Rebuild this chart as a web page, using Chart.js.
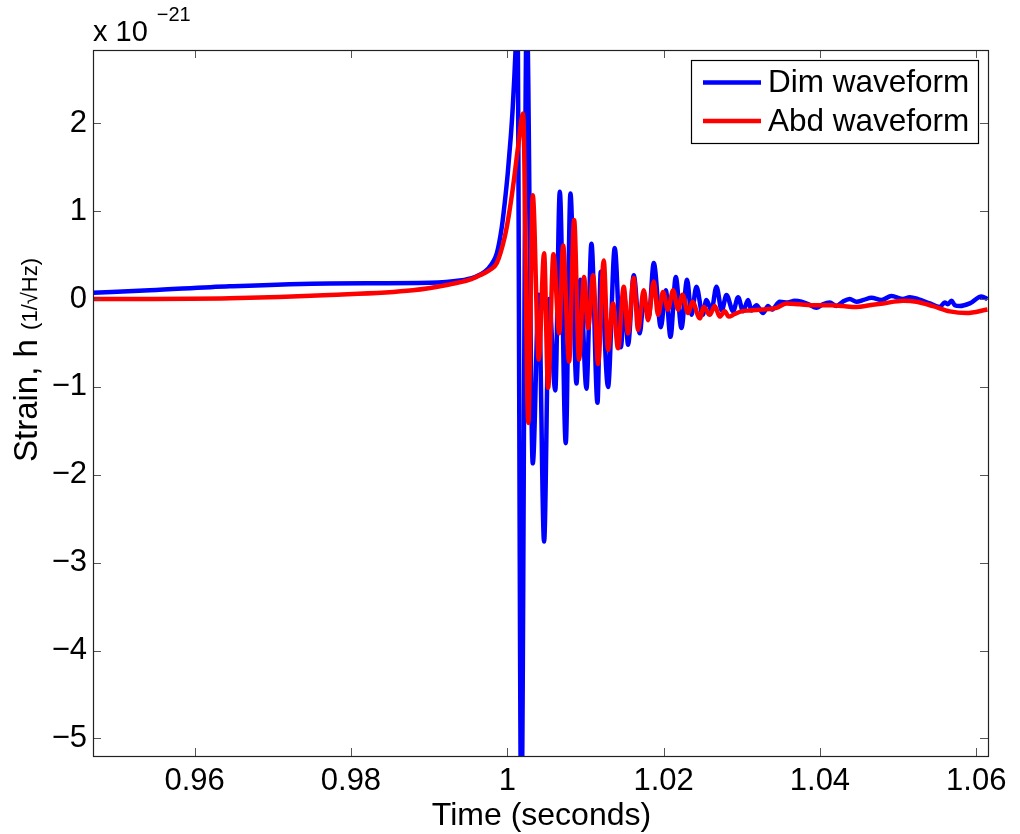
<!DOCTYPE html>
<html><head><meta charset="utf-8">
<script src="https://cdn.jsdelivr.net/npm/chart.js@4.4.0/dist/chart.umd.min.js"></script>
<style>html,body{margin:0;padding:0;background:#fff}canvas{display:block}</style>
</head><body>
<canvas id="c" width="1020" height="834"></canvas>
<script>
// ---- data (time in seconds, strain in units of 1e-21) ----
const timeDim = [0.94697,0.95427,0.9645,0.97729,0.99009,0.99392,0.99584,0.99712,0.99802,0.99866,0.9993,0.99968,1.00006,1.00045,1.0007,1.00109,1.00128,1.00179,1.00249,1.00326,1.00403,1.00471,1.00535,1.00614,1.00672,1.00748,1.00808,1.00885,1.00936,1.01013,1.01077,1.01154,1.01196,1.01289,1.01375,1.01452,1.01503,1.01545,1.01618,1.01695,1.01746,1.0181,1.01874,1.01964,1.02028,1.02088,1.02156,1.02228,1.023,1.02356,1.0242,1.02501,1.02548,1.02612,1.02676,1.02744,1.02804,1.02889,1.02953,1.03017,1.03081,1.03124,1.03188,1.03272,1.03336,1.03384,1.03486,1.03588,1.03678,1.03764,1.03857,1.03955,1.04036,1.04125,1.04211,1.04292,1.04381,1.04467,1.0456,1.04659,1.04787,1.04915,1.05063,1.05149,1.05255,1.05405,1.05533,1.05597,1.05635,1.05683,1.05725,1.05789,1.05917,1.06066,1.06143];
const strainDim = [0.072,0.10,0.145,0.178,0.185,0.21,0.25,0.31,0.40,0.52,0.82,1.1,1.43,1.85,2.18,2.9,3.4,-6.0,3.3,-1.87,0.05,-2.76,0.0,-1.04,1.22,-1.64,1.20,-0.96,0.22,-1.02,0.63,-1.18,0.31,-1.00,0.58,-0.55,0.0,-0.52,0.27,-0.39,0.0,-0.2,0.41,-0.32,0.10,-0.43,0.25,-0.33,0.22,-0.18,0.14,-0.18,-0.01,-0.13,0.14,-0.13,0.045,-0.14,0.02,-0.14,-0.01,-0.13,-0.07,-0.16,-0.08,-0.12,-0.03,-0.04,-0.02,-0.03,-0.06,-0.10,-0.06,-0.04,-0.08,-0.03,0.0,-0.03,-0.01,0.015,-0.01,0.035,0.0,0.02,0.0,-0.05,-0.09,-0.04,-0.06,-0.02,-0.07,-0.08,-0.05,0.03,0.0];
const timeAbd = [0.94697,0.9645,0.97729,0.98791,0.99226,0.9952,0.99648,0.99776,0.99866,0.99968,1.00019,1.00074,1.00138,1.00202,1.00269,1.00326,1.00403,1.00471,1.00522,1.00591,1.00665,1.00714,1.00791,1.00855,1.00918,1.00981,1.01034,1.01098,1.01162,1.01234,1.01289,1.01353,1.01417,1.0149,1.01545,1.01618,1.01673,1.01746,1.01801,1.01874,1.01929,1.01993,1.02057,1.02121,1.02185,1.02241,1.02313,1.02369,1.02463,1.02514,1.0259,1.02654,1.02718,1.02782,1.02834,1.0291,1.02996,1.03102,1.03269,1.03444,1.03572,1.03742,1.03955,1.04147,1.04296,1.04467,1.04637,1.04807,1.05063,1.05235,1.05447,1.05661,1.05874,1.06143];
const strainAbd = [0.0,0.01,0.046,0.10,0.16,0.22,0.27,0.33,0.41,0.71,0.95,1.28,1.73,2.11,-1.41,1.18,-0.69,0.52,-1.01,0.51,-0.39,0.61,-0.71,0.90,-0.69,0.25,-0.33,0.27,-0.74,0.44,-0.58,-0.05,-0.56,0.14,-0.39,0.24,-0.35,0.10,-0.24,0.20,-0.18,0.08,-0.12,0.10,-0.12,0.05,-0.16,-0.03,-0.22,-0.09,-0.18,-0.08,-0.20,-0.14,-0.20,-0.17,-0.14,-0.13,-0.12,-0.10,-0.05,-0.06,-0.07,-0.07,-0.08,-0.09,-0.07,-0.05,-0.02,-0.03,-0.08,-0.14,-0.16,-0.12];
const seriesNames = ['Dim waveform', 'Abd waveform'];
const seriesColors = ['#0000ff', '#ff0000'];
const xTicks = [0.96, 0.98, 1, 1.02, 1.04, 1.06];
const yTicks = [-5, -4, -3, -2, -1, 0, 1, 2];
const xTitle = 'Time (seconds)';
const yTitleMain = 'Strain, h';
const yTitleUnit = '(1/\u221AHz)';
const expBase = 'x 10';
const expPower = '\u221221';

const FONT = '"Liberation Sans", Arial, Helvetica, sans-serif';

function pts(xs, ys){ return xs.map((x,i)=>({x:x, y:ys[i]})); }

const framePlugin = {
  id: 'frame',
  afterDatasetsDraw(chart){
    const ctx = chart.ctx, a = chart.chartArea;
    const xs = chart.scales.x, ys = chart.scales.y;
    ctx.save();
    // inward ticks on all sides
    ctx.strokeStyle = '#555';
    ctx.lineWidth = 1;
    const L = 8;
    ctx.beginPath();
    xTicks.forEach(v=>{
      const p = Math.round(xs.getPixelForValue(v)) + 0.5;
      ctx.moveTo(p, a.bottom); ctx.lineTo(p, a.bottom - L);
      ctx.moveTo(p, a.top); ctx.lineTo(p, a.top + L);
    });
    yTicks.forEach(v=>{
      const p = Math.round(ys.getPixelForValue(v)) + 0.5;
      ctx.moveTo(a.left, p); ctx.lineTo(a.left + L, p);
      ctx.moveTo(a.right, p); ctx.lineTo(a.right - L, p);
    });
    ctx.stroke();
    // frame
    ctx.strokeStyle = '#222';
    ctx.lineWidth = 1.2;
    ctx.strokeRect(Math.round(a.left)+0.5, Math.round(a.top)+0.5, Math.round(a.right-a.left), Math.round(a.bottom-a.top));
    // legend
    const lx = 691, ly = 60, lw = 287, lh = 83;
    ctx.fillStyle = '#fff';
    ctx.fillRect(lx, ly, lw, lh);
    ctx.strokeStyle = '#000';
    ctx.lineWidth = 1.2;
    ctx.strokeRect(lx+0.5, ly+0.5, lw, lh);
    const rows = [82.5, 121];
    ctx.font = '31.5px ' + FONT;
    ctx.textBaseline = 'middle';
    ctx.textAlign = 'left';
    seriesNames.forEach((n,i)=>{
      ctx.strokeStyle = seriesColors[i];
      ctx.lineWidth = 4.5;
      ctx.beginPath();
      ctx.moveTo(703, rows[i]); ctx.lineTo(761, rows[i]);
      ctx.stroke();
      ctx.fillStyle = '#000';
      ctx.fillText(n, 768, rows[i] + 1);
    });
    ctx.restore();
  },
  afterDraw(chart){
    const ctx = chart.ctx, a = chart.chartArea;
    ctx.save();
    ctx.fillStyle = '#000';
    // x title
    ctx.font = '32px ' + FONT;
    ctx.textAlign = 'center';
    ctx.textBaseline = 'alphabetic';
    ctx.fillText(xTitle, (a.left + a.right)/2 + 1, 825);
    // y title (rotated, mixed sizes)
    ctx.save();
    ctx.translate(37, 462);
    ctx.rotate(-Math.PI/2);
    ctx.textAlign = 'left';
    ctx.font = '33px ' + FONT;
    ctx.fillText(yTitleMain, 0, 0);
    const w1 = ctx.measureText(yTitleMain + ' ').width;
    ctx.font = '22px ' + FONT;
    ctx.fillText(yTitleUnit, w1, 0);
    ctx.restore();
    // exponent
    ctx.textAlign = 'left';
    ctx.font = '29px ' + FONT;
    ctx.fillText(expBase, 93, 40.5);
    const wb = ctx.measureText(expBase).width;
    ctx.font = '20px ' + FONT;
    ctx.fillText(expPower, 93 + wb + 9, 21);
    ctx.restore();
  }
};

new Chart(document.getElementById('c'), {
  type: 'line',
  data: {
    datasets: [
      { label: seriesNames[0], data: pts(timeDim, strainDim), borderColor: seriesColors[0], borderWidth: 4.5, pointRadius: 0, cubicInterpolationMode: 'monotone', order: 1, fill: false },
      { label: seriesNames[1], data: pts(timeAbd, strainAbd), borderColor: seriesColors[1], borderWidth: 4.5, pointRadius: 0, cubicInterpolationMode: 'monotone', order: 0, fill: false }
    ]
  },
  options: {
    responsive: false,
    animation: false,
    devicePixelRatio: 1,
    parsing: true,
    layout: { padding: { top: 50, right: 32, left: 0, bottom: 0 } },
    plugins: { legend: { display: false }, tooltip: { enabled: false }, title: { display: false } },
    scales: {
      x: {
        type: 'linear', min: 0.947, max: 1.0615,
        afterBuildTicks: s => { s.ticks = xTicks.map(v => ({ value: v })); },
        afterFit: s => { s.height = 78; },
        grid: { display: false, drawTicks: false },
        border: { display: false },
        ticks: { color: '#000', font: { family: FONT, size: 31 }, padding: 7, maxRotation: 0, autoSkip: false,
          callback: v => String(Number(v.toFixed(2))) }
      },
      y: {
        type: 'linear', min: -5.2, max: 2.834,
        afterBuildTicks: s => { s.ticks = yTicks.map(v => ({ value: v })); },
        afterFit: s => { s.width = 93; },
        grid: { display: false, drawTicks: false },
        border: { display: false },
        ticks: { color: '#000', font: { family: FONT, size: 31 }, padding: 6, autoSkip: false,
          callback: v => (v < 0 ? '\u2212' + Math.abs(v) : String(v)) }
      }
    }
  },
  plugins: [framePlugin]
});
</script>
</body></html>
